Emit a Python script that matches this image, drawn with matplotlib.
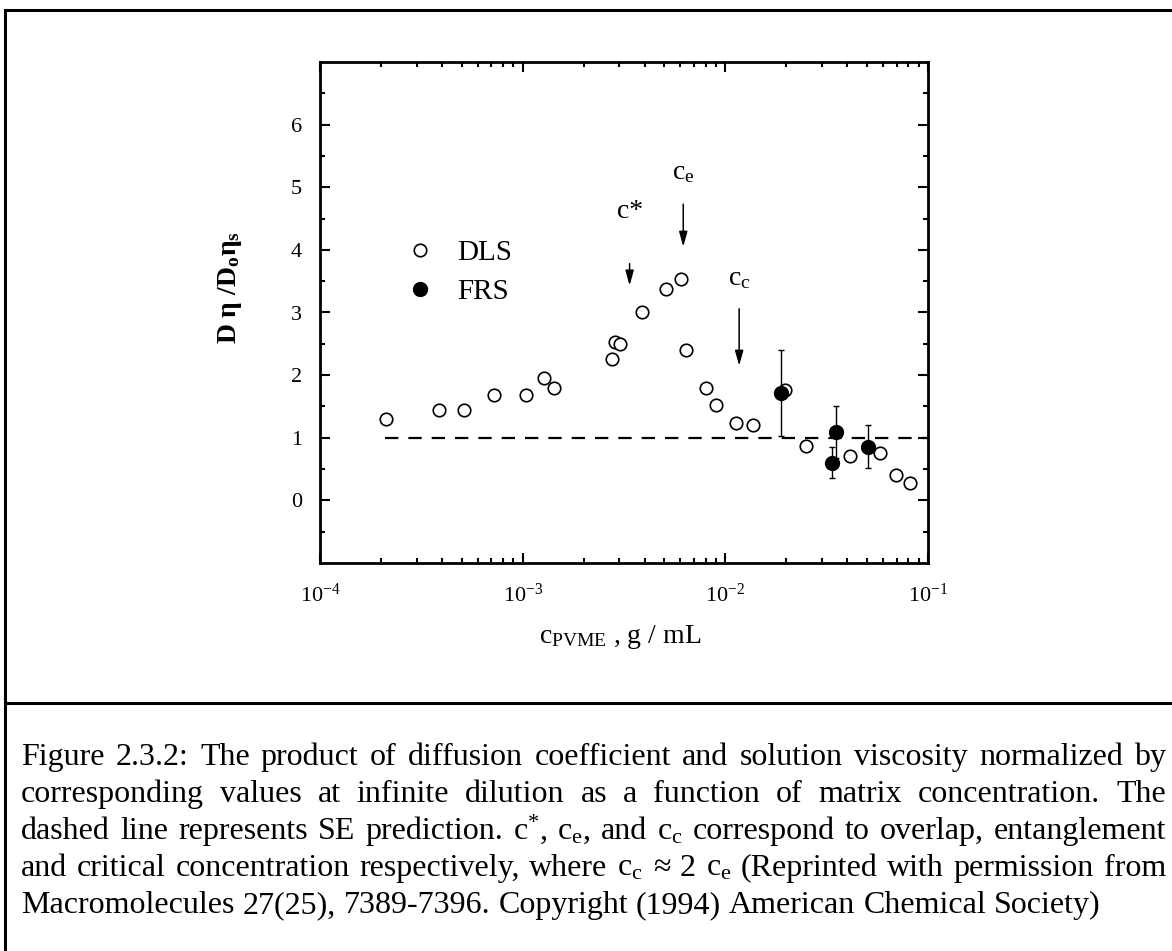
import numpy as np
import matplotlib
matplotlib.use("Agg")
import matplotlib.pyplot as plt
from matplotlib.lines import Line2D

# --------------------------------------------------------------------------------
# DATA
# --------------------------------------------------------------------------------
dls_c = [2.12e-4, 3.85e-4, 5.16e-4, 7.21e-4, 1.04e-3, 1.27e-3, 1.43e-3, 2.75e-3,
         2.86e-3, 3.02e-3, 3.89e-3, 5.11e-3, 6.01e-3, 6.37e-3, 8.04e-3, 8.97e-3,
         1.125e-2, 1.367e-2, 1.974e-2, 2.51e-2, 4.10e-2, 5.80e-2, 6.98e-2, 8.15e-2]
dls_y = [1.30, 1.44, 1.45, 1.68, 1.68, 1.95, 1.80, 2.25,
         2.53, 2.49, 3.01, 3.38, 3.53, 2.40, 1.79, 1.53,
         1.23, 1.21, 1.77, 0.87, 0.71, 0.75, 0.41, 0.27]

frs_c = [1.88e-2, 3.35e-2, 3.53e-2, 5.03e-2]
frs_y = [1.71, 0.60, 1.09, 0.86]
frs_err = [0.69, 0.25, 0.41, 0.34]

se_c = [2.1e-4, 1e-1]
se_y = [1.0, 1.0]

# characteristic concentrations: label, position, arrow tail, arrow tip
mark_labels = ["c*", "c$_e$", "c$_c$"]
mark_c = [3.37e-3, 6.2e-3, 1.17e-2]
mark_tail = [3.78, 4.73, 3.06]
mark_tip = [3.43, 4.05, 2.15]
mark_text_y = [4.62, 5.24, 3.54]

caption_lines = [
    "Figure 2.3.2: The product of diffusion coefficient and solution viscosity normalized by",
    "corresponding values at infinite dilution as a function of matrix concentration. The",
    "dashed line represents SE prediction. c$^{*}$, c$_{e}$, and c$_{c}$ correspond to overlap, entanglement",
    "and critical concentration respectively, where c$_{c}$ \u2248 2 c$_{e}$ (Reprinted with permission from",
    "Macromolecules 27(25), 7389-7396. Copyright (1994) American Chemical Society)",
]

# --------------------------------------------------------------------------------
# SETUP
# --------------------------------------------------------------------------------
W, H = 1172, 951
plt.rcParams['font.family'] = ['Liberation Serif', 'DejaVu Serif']
plt.rcParams['mathtext.default'] = 'regular'

fig = plt.figure(figsize=(W / 100, H / 100), dpi=100)
ax = fig.add_axes([320 / W, 1 - 563 / H, 608 / W, 501 / H])

# --------------------------------------------------------------------------------
# PLOT
# --------------------------------------------------------------------------------
ax.plot(se_c, se_y, color='black', lw=1.6, dashes=(6, 4.5))
ax.plot(dls_c, dls_y, ls='none', marker='o', ms=9, mfc='white', mec='black', mew=1.2)
ax.errorbar(frs_c, frs_y, yerr=frs_err, fmt='o', color='black', ms=10,
            elinewidth=1, capsize=2.5, capthick=1)

for lab, c, t0, t1, ty in zip(mark_labels, mark_c, mark_tail, mark_tip, mark_text_y):
    ax.annotate('', xy=(c, t1), xytext=(c, t0),
                arrowprops=dict(arrowstyle='-|>,head_length=0.9,head_width=0.25',
                                color='black', lw=1.1, shrinkA=0, shrinkB=0))
    ax.text(c, ty, lab, ha='center', va='center', fontsize=20)

ax.set_xscale('log')
ax.set_xlim(1e-4, 1e-1)
ax.set_ylim(-1, 7)
ax.set_yticks(range(0, 7))
ax.set_yticks(np.arange(-0.5, 7, 1.0), minor=True)

for s in ax.spines.values():
    s.set_linewidth(2)
ax.tick_params(which='both', direction='in', top=True, right=True, width=1.5)
ax.tick_params(which='major', length=7, labelsize=16)
ax.tick_params(axis='x', which='major', pad=15)
ax.tick_params(axis='y', which='major', pad=13)
ax.tick_params(which='minor', length=3.5)

ax.set_xlabel("c$_{PVME}$ , g / mL", fontsize=20)
ax.xaxis.set_label_coords(0.493, -0.12)
ax.set_ylabel("D \u03b7 /D$_{o}$\u03b7$_{s}$", fontsize=20, fontweight='bold')
ax.yaxis.set_label_coords(-0.125, 0.55)

legend_elements = [
    Line2D([], [], ls='none', marker='o', ms=9, mfc='white', mec='black', mew=1.2, label='DLS'),
    Line2D([], [], ls='none', marker='o', ms=10, mfc='black', mec='black', label='FRS'),
]
ax.legend(handles=legend_elements, loc='center left', bbox_to_anchor=(0.141, 0.58),
          frameon=False, fontsize=21, handlelength=1.0, handletextpad=0.75,
          labelspacing=0.45, borderpad=0, borderaxespad=0)

# --------------------------------------------------------------------------------
# FRAME + CAPTION
# --------------------------------------------------------------------------------
fig.add_artist(Line2D([5 / W, 5 / W], [0, 1 - 10 / H], transform=fig.transFigure, color='black', lw=2.2))
fig.add_artist(Line2D([5 / W, 1], [1 - 10 / H, 1 - 10 / H], transform=fig.transFigure, color='black', lw=2.2))
fig.add_artist(Line2D([5 / W, 1], [1 - 703 / H, 1 - 703 / H], transform=fig.transFigure, color='black', lw=2.2))

renderer = fig.canvas.get_renderer()
x0, x1 = 21, 1166
probe = fig.text(0, 0, caption_lines[-1], fontsize=22)
cap_size = 22 * 1076 / probe.get_window_extent(renderer).width
probe.remove()
space_px = cap_size * 100 / 72 * 0.25

baselines = [765, 802, 839, 876, 913]
for i, (line, yb) in enumerate(zip(caption_lines, baselines)):
    words = line.split(' ')
    texts = [fig.text(0, 1 - yb / H, w, fontsize=cap_size, ha='left', va='baseline') for w in words]
    widths = [t.get_window_extent(renderer).width for t in texts]
    if i < len(caption_lines) - 1:
        gap = (x1 - x0 - sum(widths)) / (len(words) - 1)   # justified
    else:
        gap = space_px                                       # last line left aligned
    x = x0
    for t, w in zip(texts, widths):
        t.set_x(x / W)
        x += w + gap

fig.savefig("out.png", dpi=100)
